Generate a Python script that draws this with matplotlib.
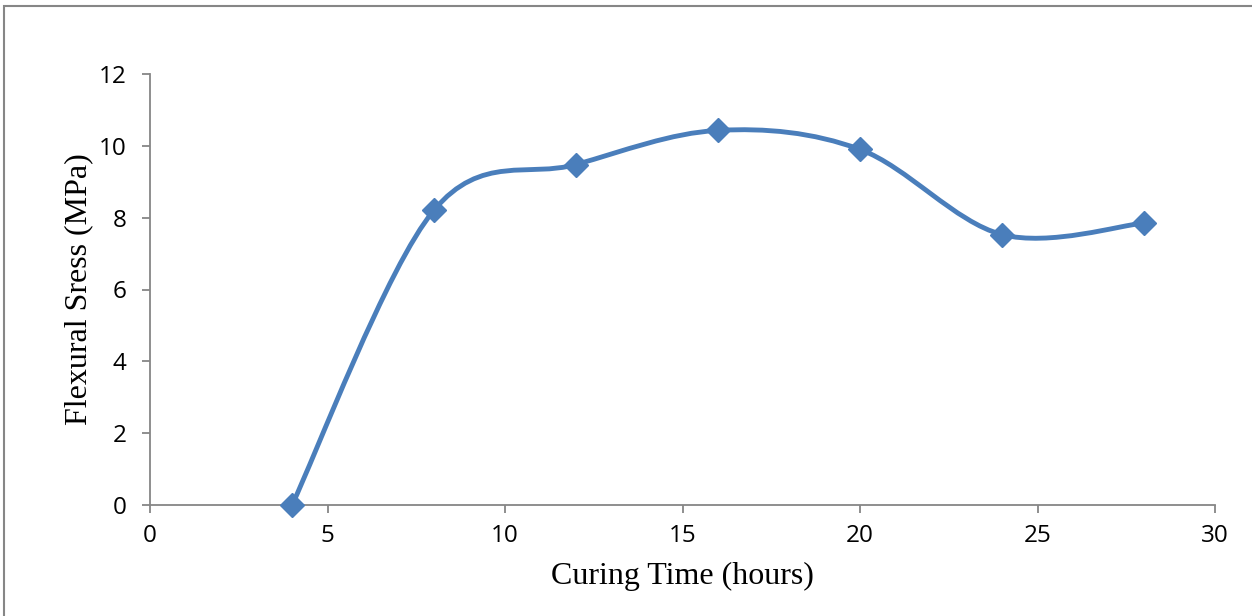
import numpy as np
import matplotlib.pyplot as plt
from matplotlib.path import Path
from matplotlib.patches import PathPatch, Rectangle

# data
curing_time = [4, 8, 12, 16, 20, 24, 28]
flexural_stress = [0.0, 8.21, 9.48, 10.43, 9.9, 7.53, 7.85]

x_ticks = [0, 5, 10, 15, 20, 25, 30]
y_ticks = [0, 2, 4, 6, 8, 10, 12]

line_color = '#4A7EBB'
axis_color = '#868686'


def smooth_path(x, y):
    # Excel-like smoothed line: cubic Bezier segments through every point
    pts = np.column_stack([x, y]).astype(float)
    n = len(pts)
    verts = [pts[0]]
    codes = [Path.MOVETO]
    for i in range(n - 1):
        p0 = pts[max(i - 1, 0)]
        p1 = pts[i]
        p2 = pts[i + 1]
        p3 = pts[min(i + 2, n - 1)]
        c1 = p1 + (p2 - p0) / 6.0
        c2 = p2 - (p3 - p1) / 6.0
        verts += [c1, c2, p2]
        codes += [Path.CURVE4] * 3
    return Path(verts, codes)


fig = plt.figure(figsize=(12.52, 6.16), dpi=100)
ax = fig.add_axes([150 / 1252, 111 / 616, 1065 / 1252, 431 / 616])

# outer chart border (only top and left fall inside the picture)
fig.patches.append(Rectangle((3.5 / 1252, -0.1), 1.2, (616 - 5.5) / 616 + 0.1,
                             transform=fig.transFigure, fill=False,
                             edgecolor=axis_color, linewidth=1.5))

ax.add_patch(PathPatch(smooth_path(curing_time, flexural_stress), facecolor='none',
                       edgecolor=line_color, linewidth=3.5, capstyle='round',
                       joinstyle='round', zorder=3))
ax.plot(curing_time, flexural_stress, linestyle='none', marker='D',
        markersize=12, color=line_color, zorder=4, clip_on=False)

ax.set_xlim(0, 30)
ax.set_ylim(0, 12)
ax.set_xticks(x_ticks)
ax.set_yticks(y_ticks)

for side in ['top', 'right']:
    ax.spines[side].set_visible(False)
for side in ['left', 'bottom']:
    ax.spines[side].set_color(axis_color)
    ax.spines[side].set_linewidth(1.3)

ax.tick_params(axis='both', direction='out', color=axis_color, width=1.3,
               labelsize=17.5, labelcolor='black')
ax.tick_params(axis='x', length=6, pad=8)
ax.tick_params(axis='y', length=6, pad=11)
for lbl in ax.get_xticklabels() + ax.get_yticklabels():
    lbl.set_fontfamily('Open Sans')

ax.set_xlabel('Curing Time (hours)', fontfamily='Liberation Serif', fontsize=23, labelpad=10)
ax.set_ylabel('Flexural Sress (MPa)', fontfamily='Liberation Serif', fontsize=23, labelpad=4)

fig.savefig('out.png', dpi=100)
